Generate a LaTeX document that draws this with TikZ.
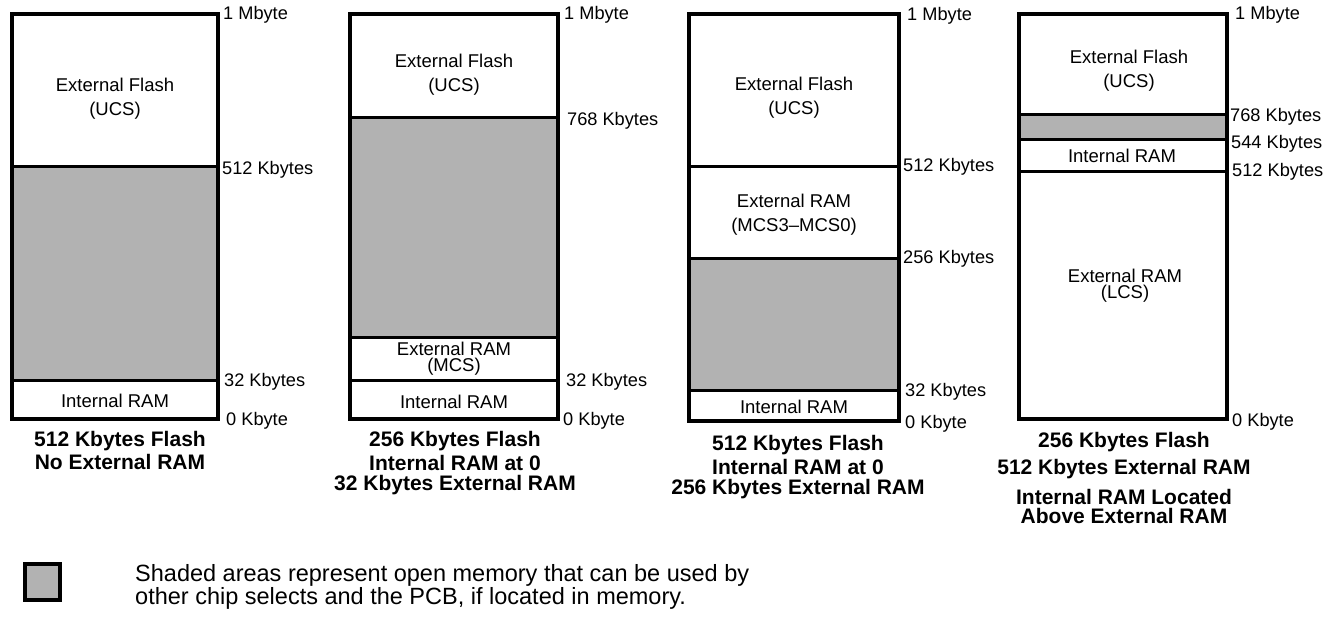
\documentclass[tikz,border=0pt]{standalone}
\usepackage{fontspec}
\setmainfont{Liberation Sans}
\begin{document}
\begin{tikzpicture}[x=1pt,y=-1pt,
  boxline/.style={line width=3.5pt},
  divline/.style={line width=3pt},
  shadearea/.style={fill=black!30},
  lbl/.style={anchor=west, font=\fontsize{18.2}{20}\selectfont, inner sep=0pt},
  intext/.style={align=center, font=\fontsize{18.5}{24}\selectfont, inner sep=0pt},
  tighttext/.style={align=center, font=\fontsize{18.5}{16}\selectfont, inner sep=0pt},
  captext/.style={font=\bfseries\fontsize{21}{22}\selectfont, inner sep=0pt},
  legtext/.style={anchor=west, align=left, font=\fontsize{23.5}{23}\selectfont, inner sep=0pt}]
\useasboundingbox (0,0) rectangle (1337,619);

% ---------- Box 1 ----------
\fill[shadearea] (12,166) rectangle (218,380);
\draw[divline] (12,166) -- (218,166);
\draw[divline] (12,380) -- (218,380);
\draw[boxline] (12,14) rectangle (218,419);
\node[intext] (b1flash) at (115,99) {External Flash\\(UCS)};
\node[intext] (b1iram) at (115,401) {Internal RAM};
\node[lbl] (b1l1) at (223,15) {1 Mbyte};
\node[lbl] (b1l2) at (222,170) {512 Kbytes};
\node[lbl] (b1l3) at (224,382) {32 Kbytes};
\node[lbl] (b1l4) at (226,421) {0 Kbyte};
\node[captext] (b1c1) at (120,441) {512 Kbytes Flash};
\node[captext] (b1c2) at (120,462) {No External RAM};

% ---------- Box 2 ----------
\fill[shadearea] (350,117) rectangle (558,337);
\draw[divline] (350,117) -- (558,117);
\draw[divline] (350,337) -- (558,337);
\draw[divline] (350,380) -- (558,380);
\draw[boxline] (350,14) rectangle (558,419);
\node[intext] (b2flash) at (454,75) {External Flash\\(UCS)};
\node[tighttext] (b2xram) at (454,359) {External RAM\\(MCS)};
\node[intext] (b2iram) at (454,402) {Internal RAM};
\node[lbl] (b2l1) at (564,15) {1 Mbyte};
\node[lbl] (b2l2) at (567,121) {768 Kbytes};
\node[lbl] (b2l3) at (566,382) {32 Kbytes};
\node[lbl] (b2l4) at (563,421) {0 Kbyte};
\node[captext] (b2c1) at (455,441) {256 Kbytes Flash};
\node[captext] (b2c2) at (455,463) {Internal RAM at 0};
\node[captext] (b2c3) at (455,485) {32 Kbytes External RAM};

% ---------- Box 3 ----------
\fill[shadearea] (689,258) rectangle (899,390);
\draw[divline] (689,166) -- (899,166);
\draw[divline] (689,258) -- (899,258);
\draw[divline] (689,390) -- (899,390);
\draw[boxline] (689,14) rectangle (899,421);
\node[intext] (b3flash) at (794,98) {External Flash\\(UCS)};
\node[intext] (b3xram) at (794,215) {External RAM\\(MCS3--MCS0)};
\node[intext] (b3iram) at (794,407) {Internal RAM};
\node[lbl] (b3l1) at (907,16) {1 Mbyte};
\node[lbl] (b3l2) at (903,167) {512 Kbytes};
\node[lbl] (b3l3) at (903,259) {256 Kbytes};
\node[lbl] (b3l4) at (905,392) {32 Kbytes};
\node[lbl] (b3l5) at (905,424) {0 Kbyte};
\node[captext] (b3c1) at (798,445) {512 Kbytes Flash};
\node[captext] (b3c2) at (798,467) {Internal RAM at 0};
\node[captext] (b3c3) at (798,489) {256 Kbytes External RAM};

% ---------- Box 4 ----------
\fill[shadearea] (1019,114) rectangle (1227,139);
\draw[divline] (1019,114) -- (1227,114);
\draw[divline] (1017,139) -- (1227,139);
\draw[divline] (1019,171) -- (1227,171);
\draw[boxline] (1019,14) rectangle (1227,419);
\node[intext] (b4flash) at (1129,71) {External Flash\\(UCS)};
\node[intext] (b4iram) at (1122,156) {Internal RAM};
\node[tighttext] (b4xram) at (1125,286) {External RAM\\(LCS)};
\node[lbl] (b4l1) at (1235,15) {1 Mbyte};
\node[lbl] (b4l2) at (1230,117) {768 Kbytes};
\node[lbl] (b4l3) at (1231,144) {544 Kbytes};
\node[lbl] (b4l4) at (1232,172) {512 Kbytes};
\node[lbl] (b4l5) at (1232,422) {0 Kbyte};
\node[captext] (b4c1) at (1124,442) {256 Kbytes Flash};
\node[captext] (b4c2) at (1124,469) {512 Kbytes External RAM};
\node[captext] (b4c3) at (1124,497) {Internal RAM Located};
\node[captext] (b4c4) at (1124,516) {Above External RAM};

% ---------- Legend ----------
\draw[shadearea, line width=3.5pt] (25,564) rectangle (60,600) node[pos=0, inner sep=0pt] (legsq) {};
\node[legtext] (legtxt) at (135,587) {Shaded areas represent open memory that can be used by\\other chip selects and the PCB, if located in memory.};
\end{tikzpicture}
\end{document}
